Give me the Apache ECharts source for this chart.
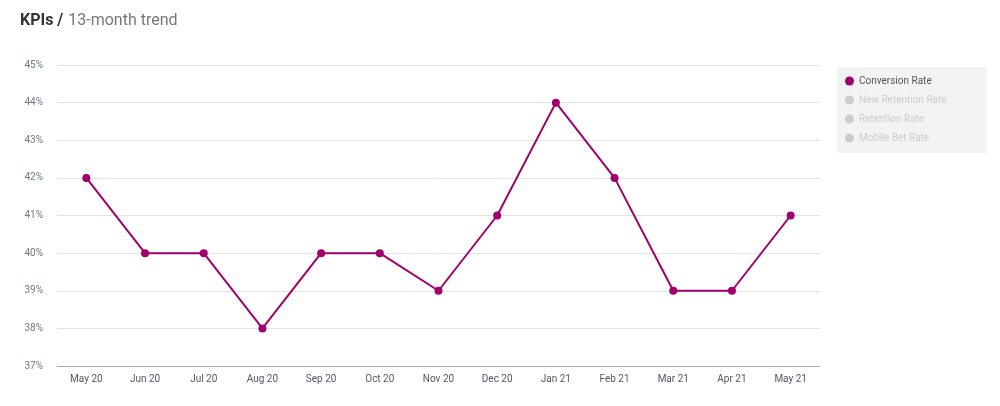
<!DOCTYPE html>
<html><head><meta charset="utf-8">
<script src="https://cdn.jsdelivr.net/npm/echarts@6/dist/echarts.min.js"></script>
<style>html,body{margin:0;background:#fff}#c{width:1000px;height:406px}</style>
</head><body><div id="c"></div>
<script>
const months = ["May 20","Jun 20","Jul 20","Aug 20","Sep 20","Oct 20","Nov 20","Dec 20","Jan 21","Feb 21","Mar 21","Apr 21","May 21"];
const conversionRate = [42,40,40,38,40,40,39,41,44,42,39,39,41];
const seriesNames = ["Conversion Rate","New Retention Rate","Retention Rate","Mobile Bet Rate"];

const chart = echarts.init(document.getElementById("c"));
const font = "Roboto, sans-serif";
chart.setOption({
  animation: false,
  title: {
    left: 15, top: 7,
    text: "{b|KPIs /} {n|13-month trend}",
    textStyle: { fontWeight: "normal", rich: {
      b: { fontFamily: font, fontSize: 16, fontWeight: "bold", color: "#333" },
      n: { fontFamily: font, fontSize: 16, fontWeight: "normal", color: "#777" }
    } }
  },
  grid: { left: 57, right: 180, top: 65, bottom: 40 },
  legend: {
    orient: "vertical", left: 837, top: 67, width: 151,
    padding: [9, 40, 10, 8], itemGap: 9,
    backgroundColor: "#f3f3f3",
    icon: "circle", itemWidth: 9, itemHeight: 11,
    textStyle: { fontFamily: font, fontSize: 10, color: "#555" },
    inactiveColor: "#ccc",
    data: seriesNames,
    selected: { "New Retention Rate": false, "Retention Rate": false, "Mobile Bet Rate": false }
  },
  xAxis: {
    type: "category", data: months, boundaryGap: true,
    axisLine: { lineStyle: { color: "#aab" } },
    axisTick: { lineStyle: { color: "#aab" } },
    axisLabel: { fontFamily: font, fontSize: 10, color: "#556" }
  },
  yAxis: {
    type: "value", min: 37, max: 45, interval: 1,
    axisLabel: { fontFamily: font, fontSize: 10, color: "#6a7a8a", formatter: "{value}%", margin: 14 },
    splitLine: { lineStyle: { color: "#e3e3e3" } },
    axisLine: { show: false }, axisTick: { show: false }
  },
  series: seriesNames.map((n, i) => ({
    name: n, type: "line",
    data: i === 0 ? conversionRate : [],
    symbol: "circle", symbolSize: 8,
    itemStyle: { color: i === 0 ? "#a0006b" : "#ccc" },
    lineStyle: { width: 2, color: "#a0006b" }
  }))
});
</script></body></html>
